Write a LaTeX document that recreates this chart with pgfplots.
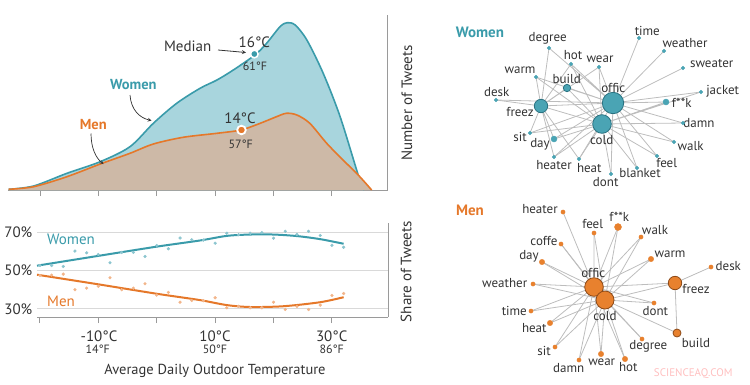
\documentclass[border=0pt]{standalone}
\usepackage{pgfplots}
\pgfplotsset{compat=1.18}
\usepackage{fontspec}
\setmainfont{PT Sans}
\definecolor{wline}{HTML}{3A9BAA}
\definecolor{wfill}{HTML}{A8D5DD}
\definecolor{wdot}{HTML}{8CC5CF}
\definecolor{mline}{HTML}{E5782A}
\definecolor{mfill}{HTML}{CDB9A7}
\definecolor{mdot}{HTML}{F2B58A}
\definecolor{txt}{HTML}{333333}
\definecolor{axgray}{HTML}{9A9A9A}
\definecolor{edgec}{HTML}{BDBDBD}
\definecolor{wnode}{HTML}{4AA4B4}
\definecolor{wnodeo}{HTML}{2B7382}
\definecolor{mnode}{HTML}{E8812E}
\definecolor{mnodeo}{HTML}{8E4A17}
\tikzset{lab/.style={font=\fontsize{13}{14}\selectfont, text=txt, inner sep=0pt},
 big/.style={font=\fontsize{15}{16}\selectfont, text=txt, inner sep=0pt},
 small/.style={font=\fontsize{12}{13}\selectfont, text=txt, inner sep=0pt}}
\begin{document}
\begin{tikzpicture}[x=1pt,y=1pt]
\path[use as bounding box] (0,0) rectangle (750,384);

% ---------- top chart: number of tweets ----------
\begin{scope}[shift={(8pt,194pt)}]
\begin{axis}[at={(0pt,0pt)}, anchor=south west, scale only axis, width=380pt, height=175pt,
 xmin=-25.5, xmax=39.6, ymin=0, ymax=175, clip=false,
 axis x line*=bottom, axis y line*=right, axis line style={axgray, line width=1pt, -},
 xtick={-20,-10,0,10,20,30}, xticklabels={}, ytick=\empty,
 tick align=outside, major tick length=6pt, tick style={axgray, line width=1pt}]
\addplot[draw=none, fill=wfill, smooth] coordinates {(-25.4,0.7) (-21.1,4) (-15.4,16.7) (-9.7,28.3) (-4.6,43.3) (-0.6,66.7) (3.4,86.7) (7.4,101.7) (10.3,110) (13.1,120) (16.8,135) (18.8,146.7) (21.1,163.3) (22.3,167.3) (23.7,165) (25.7,150) (28.5,116.7) (31.4,73.3) (34.5,15) (35.5,0)} \closedcycle;
\addplot[wline, line width=1.6pt, smooth] coordinates {(-25.4,0.7) (-21.1,4) (-15.4,16.7) (-9.7,28.3) (-4.6,43.3) (-0.6,66.7) (3.4,86.7) (7.4,101.7) (10.3,110) (13.1,120) (16.8,135) (18.8,146.7) (21.1,163.3) (22.3,167.3) (23.7,165) (25.7,150) (28.5,116.7) (31.4,73.3) (34.5,15) (35.5,0)};
\addplot[draw=none, fill=mfill, smooth] coordinates {(-25.4,0.7) (-21.1,3.3) (-15.4,13.3) (-9.7,26) (-4.6,36.7) (-0.6,46) (4.5,52.7) (10.3,56.7) (14.4,60) (17.7,66.7) (20.5,73.3) (22.2,76.7) (24,75) (26.2,66.7) (29.1,46.7) (31.9,30) (34.5,15) (36.8,0)} \closedcycle;
\addplot[mline, line width=1.6pt, smooth] coordinates {(-25.4,0.7) (-21.1,3.3) (-15.4,13.3) (-9.7,26) (-4.6,36.7) (-0.6,46) (4.5,52.7) (10.3,56.7) (14.4,60) (17.7,66.7) (20.5,73.3) (22.2,76.7) (24,75) (26.2,66.7) (29.1,46.7) (31.9,30) (34.5,15) (36.8,0)};
\addplot[only marks, mark=*, mark size=3.8, mark options={fill=wline, draw=white, line width=1.5pt}] coordinates {(16.7,136)};
\addplot[only marks, mark=*, mark size=4.3, mark options={fill=mline, draw=white, line width=1.8pt}] coordinates {(14.5,60)};
\end{axis}
\end{scope}

% ---------- bottom chart: share of tweets ----------
\begin{scope}[shift={(37pt,67pt)}]
\begin{axis}[at={(0pt,0pt)}, anchor=south west, scale only axis, width=351pt, height=94pt,
 xmin=-20.5, xmax=39.6, ymin=25.8, ymax=74.7, clip=false,
 axis x line*=bottom, axis y line*=right, axis line style={axgray, line width=1pt, -},
 xtick={-20,-10,0,10,20,30}, xticklabels={}, ytick={30,50,70}, yticklabels={},
 ymajorgrids, grid style={black!15, line width=1pt},
 tick align=outside, major tick length=6pt, xtick style={axgray, line width=1pt}, ytick style={draw=none}]
\addplot[only marks, mark=*, mark size=1.4, wdot] coordinates {(-20,52.6) (-18,52.6) (-16,52.1) (-14,60.1) (-12,59.2) (-10,58.3) (-8,54.0) (-6,59.4) (-4,59.4) (-2,57.3) (0,63.0) (2,61.3) (4,66.9) (6,66.0) (8,65.8) (10,64.2) (12,69.4) (14,68.6) (16,69.4) (18,69.7) (20,66.8) (22,70.4) (24,68.7) (26,70.4) (28,68.2) (30,63.1) (32,62.1)};
\addplot[only marks, mark=*, mark size=1.4, mdot] coordinates {(-20,47.4) (-18,47.6) (-16,48.1) (-14,40.0) (-12,40.8) (-10,41.8) (-8,46.2) (-6,40.0) (-4,40.8) (-2,43.1) (0,37.2) (2,38.6) (4,33.5) (6,34.4) (8,34.3) (10,35.8) (12,30.6) (14,31.4) (16,30.6) (18,30.6) (20,33.5) (22,29.7) (24,31.3) (26,29.7) (28,32.0) (30,37.0) (32,38.0)};
\addplot[wline, line width=2pt, smooth] coordinates {(-20.5,52.5) (-10,57.6) (0,62.4) (7.4,65.6) (12,68.0) (16,68.7) (20,68.7) (24,67.9) (28,66.3) (32,63.9)};
\addplot[mline, line width=2pt, smooth] coordinates {(-20.5,47.8) (-10,42.8) (0,37.9) (7.4,34.6) (12,32.0) (16,31.0) (21.7,31.4) (28,33.5) (32,36.1)};
\end{axis}
\end{scope}

% ---------- overlay: networks and text (pixel coordinates) ----------
\begin{axis}[at={(0pt,0pt)}, anchor=south west, scale only axis, width=750pt, height=384pt,
 xmin=0, xmax=750, ymin=0, ymax=384, y dir=reverse, hide axis, clip=false]
% women network edges
\addplot[edgec, line width=0.8pt] coordinates {(613,103) (639,38) (613,103) (664,51) (613,103) (683,68) (613,103) (701,92) (613,103) (666,102) (613,103) (683,123) (613,103) (674,142) (613,103) (657,156) (613,103) (637,168) (613,103) (611,174) (613,103) (579,159) (613,103) (554,157) (613,103) (554,139) (613,103) (530,133) (613,103) (541,106) (613,103) (496,100) (613,103) (536,77) (613,103) (567,88) (613,103) (549,48) (613,103) (571,64) (613,103) (599,67) (613,103)};
\addplot[edgec, line width=0.8pt] coordinates {(602,124) (701,92) (602,124) (666,102) (602,124) (683,123) (602,124) (674,142) (602,124) (657,156) (602,124) (637,168) (602,124) (611,174) (602,124) (579,159) (602,124) (554,157) (602,124) (554,139) (602,124) (530,133) (602,124) (541,106) (602,124) (536,77) (602,124) (567,88) (602,124) (571,64) (602,124) (599,67) (602,124)};
\addplot[edgec, line width=0.8pt] coordinates {(541,106) (549,48) (541,106) (536,77) (541,106) (571,64) (541,106) (599,67) (541,106) (567,88) (541,106) (496,100) (541,106) (530,133) (541,106) (554,139) (541,106) (554,157) (541,106) (579,159) (541,106)};
% women nodes
\addplot[only marks, mark=*, mark size=1.8, mark options={fill=wnode, draw=wnode}] coordinates {(549,48) (571,64) (599,67) (639,38) (664,51) (683,68) (536,77) (496,100) (701,92) (683,123) (530,133) (674,142) (554,157) (579,159) (657,156) (637,168) (611,174)};
\addplot[only marks, mark=*, mark size=3, mark options={fill=wnode, draw=wnode}] coordinates {(666,102) (554,139)};
\addplot[only marks, mark=*, mark size=3.7, mark options={fill=wnode, draw=wnodeo, line width=0.8pt}] coordinates {(567,88)};
\addplot[only marks, mark=*, mark size=6.7, mark options={fill=wnode, draw=wnodeo, line width=0.8pt}] coordinates {(541,106)};
\addplot[only marks, mark=*, mark size=10.7, mark options={fill=wnode, draw=wnodeo, line width=0.8pt}] coordinates {(613,103)};
\addplot[only marks, mark=*, mark size=9.3, mark options={fill=wnode, draw=wnodeo, line width=0.8pt}] coordinates {(602,124)};
% men network edges
\addplot[edgec, line width=0.8pt] coordinates {(594,287) (563,212) (594,287) (594,233) (594,287) (618,227) (594,287) (641,237) (594,287) (651,259) (594,287) (654,303) (594,287) (675,283) (594,287) (642,339) (594,287) (625,359) (594,287) (601,354) (594,287) (579,360) (594,287) (555,347) (594,287) (550,323) (594,287) (531,311) (594,287) (533,284) (594,287) (542,262) (594,287) (561,244) (594,287)};
\addplot[edgec, line width=0.8pt] coordinates {(605,300) (594,233) (605,300) (618,227) (605,300) (641,237) (605,300) (651,259) (605,300) (654,303) (605,300) (675,283) (605,300) (677,333) (605,300) (642,339) (605,300) (625,359) (605,300) (601,354) (605,300) (579,360) (605,300) (555,347) (605,300) (550,323) (605,300) (531,311) (605,300) (533,284) (605,300) (542,262) (605,300) (561,244) (605,300)};
\addplot[edgec, line width=0.8pt] coordinates {(711,267) (675,283) (677,333)};
% men nodes
\addplot[only marks, mark=*, mark size=2.1, mark options={fill=mnode, draw=mnode}] coordinates {(563,212) (594,233) (641,237) (561,244) (711,267) (533,284) (654,303) (531,311) (642,339) (555,347) (579,360)};
\addplot[only marks, mark=*, mark size=2.7, mark options={fill=mnode, draw=mnode}] coordinates {(651,259) (550,323) (601,354) (625,359) (542,262)};
\addplot[only marks, mark=*, mark size=3.5, mark options={fill=mnode, draw=mnode}] coordinates {(618,227)};
\addplot[only marks, mark=*, mark size=4, mark options={fill=mnode, draw=mnodeo, line width=0.8pt}] coordinates {(677,333)};
\addplot[only marks, mark=*, mark size=6.7, mark options={fill=mnode, draw=mnodeo, line width=0.8pt}] coordinates {(675,283)};
\addplot[only marks, mark=*, mark size=9.3, mark options={fill=mnode, draw=mnodeo, line width=0.8pt}] coordinates {(594,287)};
\addplot[only marks, mark=*, mark size=9, mark options={fill=mnode, draw=mnodeo, line width=0.8pt}] coordinates {(605,300)};

% women network labels
\node[font=\bfseries\fontsize{15}{16}\selectfont, text=wline, inner sep=0pt] at (axis cs:480,32) {Women};
\node[lab] at (axis cs:547.7,38.3) {degree};
\node[lab] at (axis cs:573,55) {hot};
\node[lab] at (axis cs:600,59) {wear};
\node[lab] at (axis cs:647.3,30.7) {time};
\node[lab] at (axis cs:685,43.3) {weather};
\node[lab] at (axis cs:711.7,64) {sweater};
\node[lab] at (axis cs:520,70) {warm};
\node[lab] at (axis cs:566.7,79) {build};
\node[lab] at (axis cs:496.7,92.3) {desk};
\node[lab] at (axis cs:520,111.7) {freez};
\node[lab] at (axis cs:613.3,88.3) {offic};
\node[lab] at (axis cs:722.7,91.7) {jacket};
\node[lab] at (axis cs:681.7,103.3) {f**k};
\node[lab] at (axis cs:699,123.3) {damn};
\node[lab] at (axis cs:601.7,140) {cold};
\node[lab] at (axis cs:520,136.7) {sit};
\node[lab] at (axis cs:540,144.3) {day};
\node[lab] at (axis cs:690.7,145.7) {walk};
\node[lab] at (axis cs:554,165) {heater};
\node[lab] at (axis cs:589.3,168.3) {heat};
\node[lab] at (axis cs:666.7,163.3) {feel};
\node[lab] at (axis cs:640,173.3) {blanket};
\node[lab] at (axis cs:605.7,182.3) {dont};
% men network labels
\node[font=\bfseries\fontsize{15}{16}\selectfont, text=mline, inner sep=0pt] at (axis cs:470,210) {Men};
\node[lab] at (axis cs:540,209) {heater};
\node[lab] at (axis cs:592.7,224.3) {feel};
\node[lab] at (axis cs:619.3,217.3) {f**k};
\node[lab] at (axis cs:655,230) {walk};
\node[lab] at (axis cs:544,240.7) {coffe};
\node[lab] at (axis cs:529,256.7) {day};
\node[lab] at (axis cs:670,254.3) {warm};
\node[lab] at (axis cs:728.3,265.7) {desk};
\node[lab] at (axis cs:593.3,272.7) {offic};
\node[lab] at (axis cs:504.7,283.3) {weather};
\node[lab] at (axis cs:696,289.3) {freez};
\node[lab] at (axis cs:605,315.7) {cold};
\node[lab] at (axis cs:655.3,310.7) {dont};
\node[lab] at (axis cs:514.3,310.7) {time};
\node[lab] at (axis cs:534.3,327.7) {heat};
\node[lab] at (axis cs:696,342.7) {build};
\node[lab] at (axis cs:648.3,346.7) {degree};
\node[lab] at (axis cs:544,350.7) {sit};
\node[lab] at (axis cs:568.7,367.7) {damn};
\node[lab] at (axis cs:601.7,362.7) {wear};
\node[lab] at (axis cs:628.3,367.3) {hot};
\node[font=\fontsize{11}{12}\selectfont, text=red!25, inner sep=0pt] at (axis cs:693.3,373.3) {SCIENCEAQ.COM};

% top chart annotations
\node[big] at (axis cs:187.7,46.7) {Median};
\draw[-stealth, txt, line width=0.8pt] (axis cs:218,50) -- (axis cs:246,52.5);
\node[big] at (axis cs:254.3,42.7) {16°C};
\node[small] at (axis cs:255,66.7) {61°F};
\node[big] at (axis cs:240,118.3) {14°C};
\node[small] at (axis cs:240.7,144) {57°F};
\node[font=\bfseries\fontsize{14.5}{16}\selectfont, text=wline, inner sep=0pt] at (axis cs:133.3,85) {Women};
\draw[-stealth, txt, line width=0.7pt] (axis cs:130,95) .. controls (axis cs:131,110) and (axis cs:140,118) .. (axis cs:151.5,120.5);
\node[font=\bfseries\fontsize{14.5}{16}\selectfont, text=mline, inner sep=0pt] at (axis cs:93.3,125) {Men};
\draw[-stealth, txt, line width=0.7pt] (axis cs:91,133.5) .. controls (axis cs:91,148) and (axis cs:96,158) .. (axis cs:103.5,164);
\node[big, rotate=90] at (axis cs:407,103) {Number of Tweets};

% bottom chart annotations
\node[font=\fontsize{15}{16}\selectfont, text=wline, inner sep=0pt] at (axis cs:71,239.3) {Women};
\node[font=\fontsize{15}{16}\selectfont, text=mline, inner sep=0pt] at (axis cs:61,301.7) {Men};
\node[big] at (axis cs:18.3,232.3) {70\%};
\node[big] at (axis cs:18.3,270.7) {50\%};
\node[big] at (axis cs:18.3,309) {30\%};
\node[big, rotate=90] at (axis cs:406,271.7) {Share of Tweets};
\node[big] at (axis cs:99,336) {-10°C};
\node[small] at (axis cs:97.7,349) {14°F};
\node[big] at (axis cs:215,336) {10°C};
\node[small] at (axis cs:215,349) {50°F};
\node[big] at (axis cs:331.7,336) {30°C};
\node[small] at (axis cs:331.7,349) {86°F};
\node[font=\fontsize{14.5}{16}\selectfont, text=txt, inner sep=0pt] at (axis cs:215,370.7) {Average Daily Outdoor Temperature};
\end{axis}
\end{tikzpicture}
\end{document}
